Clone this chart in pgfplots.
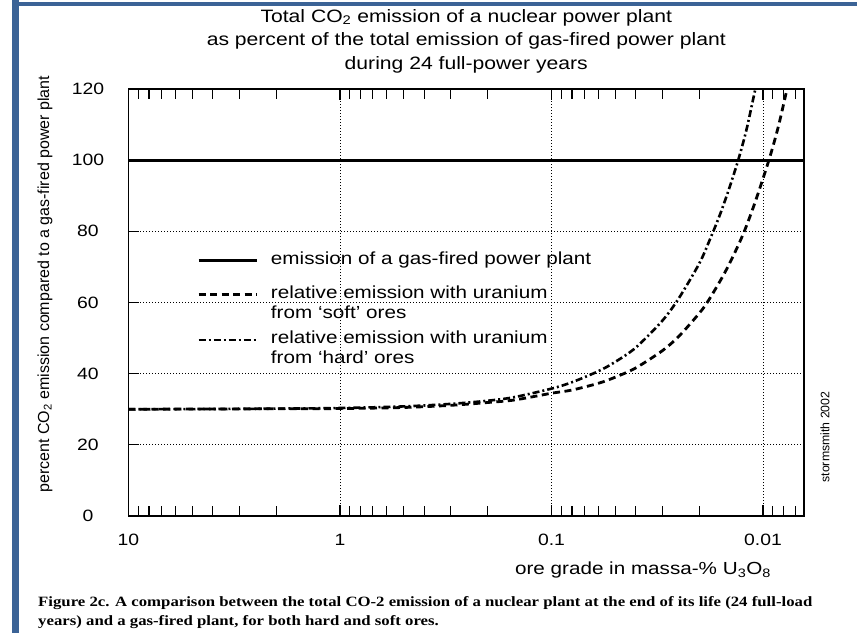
\documentclass[border=0pt]{standalone}
\usepackage{pgfplots}
\usepackage{pgfplotstable}
\pgfplotsset{compat=1.18}
\usepackage{fontspec}
\setmainfont[FakeStretch=1.18]{Liberation Sans}
\newfontfamily\plainsans{Liberation Sans}
\newfontfamily\capfont[FakeStretch=1.18]{Liberation Serif}
\definecolor{frameblue}{RGB}{59,99,150}
\newcommand\shiftdown[2]{\raisebox{-#1}[\height][\depth]{#2}}

\pgfplotstableread{
x y
10 30.0
3 30.1
1 30.35
0.5 30.8
0.3 31.5
0.2 32.4
0.15 33.4
0.1 35.8
0.08 37.6
0.06 40.7
0.05 43.3
0.04 47.3
0.03 54.8
0.025 61.2
0.02 71.0
0.0178 77.8
0.016 84.6
0.0145 91.8
0.0131 100
0.012 108.3
0.0111 117.5
0.0105 124
0.01 130
}\hardtab

\pgfplotstableread{
x y
10 30.0
3 30.1
1 30.2
0.5 30.5
0.3 31.1
0.2 31.9
0.15 32.6
0.1 34.5
0.08 35.4
0.06 37.3
0.05 39.0
0.04 41.6
0.03 46.4
0.025 50.5
0.02 57.0
0.018 60.8
0.015 68.9
0.0126 78.3
0.011 87.5
0.0094 99.8
0.0085 109
0.0078 118.5
0.0074 124.5
0.007 131
}\softtab

\begin{document}
\begin{tikzpicture}
\useasboundingbox (0pt,0pt) rectangle (857pt,633pt);
\fill[white] (0pt,0pt) rectangle (857pt,633pt);
\fill[frameblue] (12pt,0pt) rectangle (19pt,633pt);
\fill[frameblue] (12pt,627pt) rectangle (857pt,631pt);

\begin{axis}[
  at={(128.5pt,117pt)}, anchor=south west,
  scale only axis, width=675.5pt, height=427pt,
  xmode=log, x dir=reverse,
  xmin=0.0064, xmax=10, ymin=0, ymax=120,
  xtick={0.01,0.1,1,10}, xticklabels={0.01,0.1,1,10},
  minor xtick={0.007,0.008,0.009,0.02,0.03,0.04,0.05,0.06,0.07,0.08,0.09,0.2,0.3,0.4,0.5,0.6,0.7,0.8,0.9,2,3,4,5,6,7,8,9},
  ytick={0,20,40,60,80,100,120},
  xtick pos=both, ytick pos=left, tick align=inside,
  major tick length=11pt, minor tick length=10pt,
  tick style={black, line width=1.1pt},
  axis line style={line width=1.6pt},
  grid=major,
  major grid style={black, line width=0.9pt, dash pattern=on 1pt off 2pt},
  /pgf/number format/assume math mode=true,
  ticklabel style={font=\fontsize{16.4}{19}\selectfont},
  xticklabel style={anchor=center, yshift=-24pt},
  yticklabel style={anchor=center, xshift=-40.5pt},
  title={Total CO\textsubscript{2} emission of a nuclear power plant\\as percent of the total emission of gas-fired power plant\\during 24 full-power years},
  title style={align=center, font=\fontsize{17.9}{23.5}\selectfont, at={(axis description cs:0.5,1)}, anchor=south, inner sep=0pt, yshift=10pt},
  xlabel={ore grade in massa-\% U\textsubscript{3}O\textsubscript{8}},
  xlabel style={font=\fontsize{17.5}{21}\selectfont, at={(axis description cs:0.7617,-0.1265)}, anchor=center, inner sep=0pt},
  ylabel={percent CO\textsubscript{2} emission compared to a gas-fired power plant},
  ylabel style={font=\plainsans\fontsize{16}{19}\selectfont, at={(axis description cs:-0.1236,0.543)}, anchor=center, inner sep=0pt},
  legend cell align=left,
  legend image code/.code={\draw[#1] (0pt,0pt) -- (58pt,0pt);},
  legend style={at={(axis description cs:0.1014,0.623)}, anchor=north west, draw=none, fill=none,
    font=\fontsize{17.5}{21}\selectfont, inner sep=0pt, row sep=4.75pt, column sep=11pt},
]
\addplot[black, line width=2.8pt, forget plot] coordinates {(10,100) (0.0064,100)};
\addplot[black, line width=2.8pt, dash pattern=on 7pt off 4.5pt, smooth, forget plot] table[x=x,y=y] {\softtab};
\addplot[black, line width=2.6pt, dash pattern=on 7pt off 3pt on 2pt off 3pt, smooth, forget plot] table[x=x,y=y] {\hardtab};

\addlegendimage{black, line width=2.8pt}
\addlegendentry[text height=12pt, text depth=4pt]{emission of a gas-fired power plant}
\addlegendimage{black, line width=2.8pt, dash pattern=on 7pt off 4.5pt, yshift=-9.25pt}
\addlegendentry[text height=12pt, text depth=4pt]{\shiftdown{9.25pt}{relative emission with uranium}}
\addlegendimage{empty legend}
\addlegendentry[text height=12pt, text depth=4pt]{\shiftdown{4.5pt}{from `soft' ores}}
\addlegendimage{black, line width=2.6pt, dash pattern=on 7pt off 3pt on 2pt off 3pt, yshift=-4.75pt}
\addlegendentry[text height=12pt, text depth=4pt]{\shiftdown{4.75pt}{relative emission with uranium}}
\addlegendimage{empty legend}
\addlegendentry[text height=12pt, text depth=4pt]{from `hard' ores}
\end{axis}

\node[rotate=90, font=\plainsans\fontsize{12.3}{14}\selectfont, inner sep=0pt] at (825pt,196pt) {stormsmith 2002};
\node[anchor=base west, font=\capfont\bfseries\fontsize{14.2}{17}\selectfont, inner sep=0pt] at (38pt,27pt) {Figure 2c. A comparison between the total CO-2 emission of a nuclear plant at the end of its life (24 full-load};
\node[anchor=base west, font=\capfont\bfseries\fontsize{14.2}{17}\selectfont, inner sep=0pt] at (38pt,8pt) {years) and a gas-fired plant, for both hard and soft ores.};
\end{tikzpicture}
\end{document}
